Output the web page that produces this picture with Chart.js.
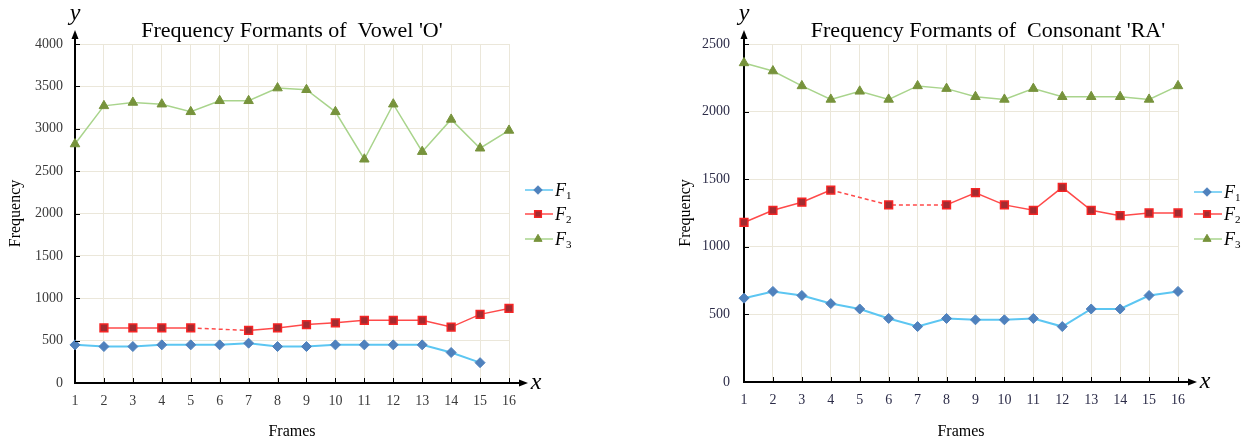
<!DOCTYPE html>
<html>
<head>
<meta charset="utf-8">
<script src="https://cdn.jsdelivr.net/npm/chart.js@4/dist/chart.umd.min.js"></script>
<style>
  html, body { margin: 0; padding: 0; background: #fff; }
  #wrap { display: flex; width: 1244px; height: 441px; }
  canvas { display: block; }
</style>
</head>
<body>
<div id="wrap">
  <canvas id="vowelChart" width="622" height="441"></canvas>
  <canvas id="raChart" width="622" height="441"></canvas>
</div>
<script>
// Formant frequencies per frame
const FRAMES = ['1','2','3','4','5','6','7','8','9','10','11','12','13','14','15','16'];
const FORMANT_SUBS = ['1', '2', '3'];

// Vowel 'O' (null = missing frame)
const VOWEL_F1 = [450, 430, 430, 450, 450, 450, 470, 430, 430, 450, 450, 450, 450, 360, 240, null];
const VOWEL_F2 = [null, 650, 650, 650, 650, null, 620, 650, 690, 710, 740, 740, 740, 660, 810, 880];
const VOWEL_F3 = [2820, 3270, 3310, 3290, 3200, 3330, 3330, 3480, 3460, 3200, 2640, 3290, 2730, 3110, 2770, 2980];

// Consonant 'RA'
const RA_F1 = [620, 670, 640, 580, 540, 470, 410, 470, 460, 460, 470, 410, 540, 540, 640, 670];
const RA_F2 = [1180, 1270, 1330, 1420, null, 1310, null, 1310, 1400, 1310, 1270, 1440, 1270, 1230, 1250, 1250];
const RA_F3 = [2360, 2300, 2190, 2090, 2150, 2090, 2190, 2170, 2110, 2090, 2170, 2110, 2110, 2110, 2090, 2190];

const SERIF = '"Liberation Serif", "DejaVu Serif", serif';

// dashed line where a frame is missing
const gapDash = ctx => (ctx.p0.skip || ctx.p1.skip) ? [4, 3] : undefined;

function makeDatasets(f1, f2, f3) {
  return [
    {
      label: 'F1', data: f1,
      borderColor: '#5CC6F2', borderWidth: 2,
      pointStyle: 'rectRot', pointRadius: 5,
      pointBackgroundColor: '#4F81BD', pointBorderColor: '#4F81BD', pointBorderWidth: 1,
      spanGaps: true, segment: { borderDash: gapDash }
    },
    {
      label: 'F2', data: f2,
      borderColor: '#FF4A4A', borderWidth: 1.5,
      pointStyle: 'rect', pointRadius: 5.5,
      pointBackgroundColor: '#A32B30', pointBorderColor: '#F52525', pointBorderWidth: 1.5,
      spanGaps: true, segment: { borderDash: gapDash }
    },
    {
      label: 'F3', data: f3,
      borderColor: '#A9D48C', borderWidth: 1.5,
      pointStyle: 'triangle', pointRadius: 5.5,
      pointBackgroundColor: '#77933C', pointBorderColor: '#77933C', pointBorderWidth: 1,
      spanGaps: true, segment: { borderDash: gapDash }
    }
  ];
}

// arrows, axis letters, inner ticks, title and legend
const decor = {
  id: 'decor',
  afterDraw(chart, args, opts) {
    const ctx = chart.ctx;
    const a = chart.chartArea;
    const xs = chart.scales.x;
    const ys = chart.scales.y;
    ctx.save();

    // small tick marks pointing into the plot
    ctx.strokeStyle = '#000';
    ctx.lineWidth = 1;
    xs.ticks.forEach((t, i) => {
      const px = Math.round(xs.getPixelForTick(i)) + 0.5;
      ctx.beginPath();
      ctx.moveTo(px, a.bottom);
      ctx.lineTo(px, a.bottom - 5);
      ctx.stroke();
    });
    ys.ticks.forEach((t, i) => {
      const py = Math.round(ys.getPixelForTick(i)) + 0.5;
      ctx.beginPath();
      ctx.moveTo(a.left, py);
      ctx.lineTo(a.left + 5, py);
      ctx.stroke();
    });

    // axis arrows
    ctx.lineWidth = 2;
    ctx.fillStyle = '#000';
    ctx.beginPath();
    ctx.moveTo(a.left, a.top);
    ctx.lineTo(a.left, a.top - 8);
    ctx.moveTo(a.right, a.bottom);
    ctx.lineTo(a.right + 12, a.bottom);
    ctx.stroke();
    ctx.beginPath();
    ctx.moveTo(a.left, a.top - 14);
    ctx.lineTo(a.left - 3.5, a.top - 5);
    ctx.lineTo(a.left + 3.5, a.top - 5);
    ctx.closePath();
    ctx.fill();
    ctx.beginPath();
    ctx.moveTo(a.right + 19, a.bottom);
    ctx.lineTo(a.right + 10, a.bottom - 3.5);
    ctx.lineTo(a.right + 10, a.bottom + 3.5);
    ctx.closePath();
    ctx.fill();

    ctx.font = 'italic 24px ' + SERIF;
    ctx.textAlign = 'center';
    ctx.textBaseline = 'alphabetic';
    ctx.fillText('y', a.left, a.top - 24);
    ctx.fillText('x', a.right + 27, a.bottom + 6);

    // title
    ctx.font = '22px ' + SERIF;
    ctx.fillStyle = '#000';
    ctx.fillText(opts.title, opts.titleX, 37);

    // legend
    const lx = a.right + 16;
    chart.data.datasets.forEach((ds, i) => {
      const y = opts.legendY[i];
      ctx.strokeStyle = ds.borderColor;
      ctx.lineWidth = 1.5;
      ctx.setLineDash([]);
      ctx.beginPath();
      ctx.moveTo(lx, y);
      ctx.lineTo(lx + 28, y);
      ctx.stroke();
      ctx.fillStyle = ds.pointBackgroundColor;
      ctx.strokeStyle = ds.pointBorderColor;
      ctx.lineWidth = ds.pointBorderWidth;
      Chart.helpers.drawPoint(ctx, {
        pointStyle: ds.pointStyle, rotation: 0,
        radius: ds.pointRadius * 0.85, borderWidth: ds.pointBorderWidth
      }, lx + 13, y);
      ctx.fillStyle = '#000';
      ctx.textAlign = 'left';
      ctx.font = 'italic 18px ' + SERIF;
      ctx.fillText('F', lx + 30, y + 6);
      ctx.font = '11px ' + SERIF;
      ctx.fillText(FORMANT_SUBS[i], lx + 41, y + 9);
    });
    ctx.restore();
  }
};

function makeChart(id, datasets, cfg) {
  new Chart(document.getElementById(id), {
    type: 'line',
    data: { labels: FRAMES, datasets: datasets },
    plugins: [decor],
    options: {
      responsive: false,
      animation: false,
      layout: { padding: { top: 44, right: cfg.padRight, left: cfg.padLeft, bottom: 0 } },
      plugins: {
        legend: { display: false },
        title: { display: false },
        tooltip: { enabled: false },
        decor: { title: cfg.title, titleX: cfg.titleX, legendY: cfg.legendY }
      },
      scales: {
        x: {
          offset: false,
          afterFit: s => { s.height = cfg.xHeight; },
          grid: { color: '#EBE7DA', drawTicks: false },
          border: { color: '#000', width: 2 },
          ticks: { padding: 10, color: cfg.tickColor, font: { family: SERIF, size: 14 }, maxRotation: 0, autoSkip: false },
          title: { display: true, text: 'Frames', color: '#000', padding: { top: 0, bottom: 0 }, font: { family: SERIF, size: 16 } }
        },
        y: {
          min: 0, max: cfg.yMax,
          afterFit: s => { s.width = cfg.yWidth; },
          grid: { color: '#EBE7DA', drawTicks: false },
          border: { color: '#000', width: 2 },
          ticks: {
            stepSize: 500, padding: cfg.yTickPad, color: cfg.tickColor,
            font: { family: SERIF, size: 14 },
            callback: v => String(v)
          },
          title: { display: true, text: 'Frequency', color: '#000', padding: { top: 6, bottom: 0 }, font: { family: SERIF, size: 16 } }
        }
      }
    }
  });
}

makeChart('vowelChart', makeDatasets(VOWEL_F1, VOWEL_F2, VOWEL_F3), {
  title: "Frequency Formants of  Vowel 'O'", titleX: 292,
  legendY: [190, 214, 239], padLeft: 0, padRight: 113, yWidth: 75, xHeight: 58,
  yMax: 4000, yTickPad: 12, tickColor: '#3a3a3a'
});

makeChart('raChart', makeDatasets(RA_F1, RA_F2, RA_F3), {
  title: "Frequency Formants of  Consonant 'RA'", titleX: 366,
  legendY: [192, 214, 239], padLeft: 48, padRight: 66, yWidth: 74, xHeight: 59,
  yMax: 2500, yTickPad: 14, tickColor: '#2c2c48'
});
</script>
</body>
</html>
